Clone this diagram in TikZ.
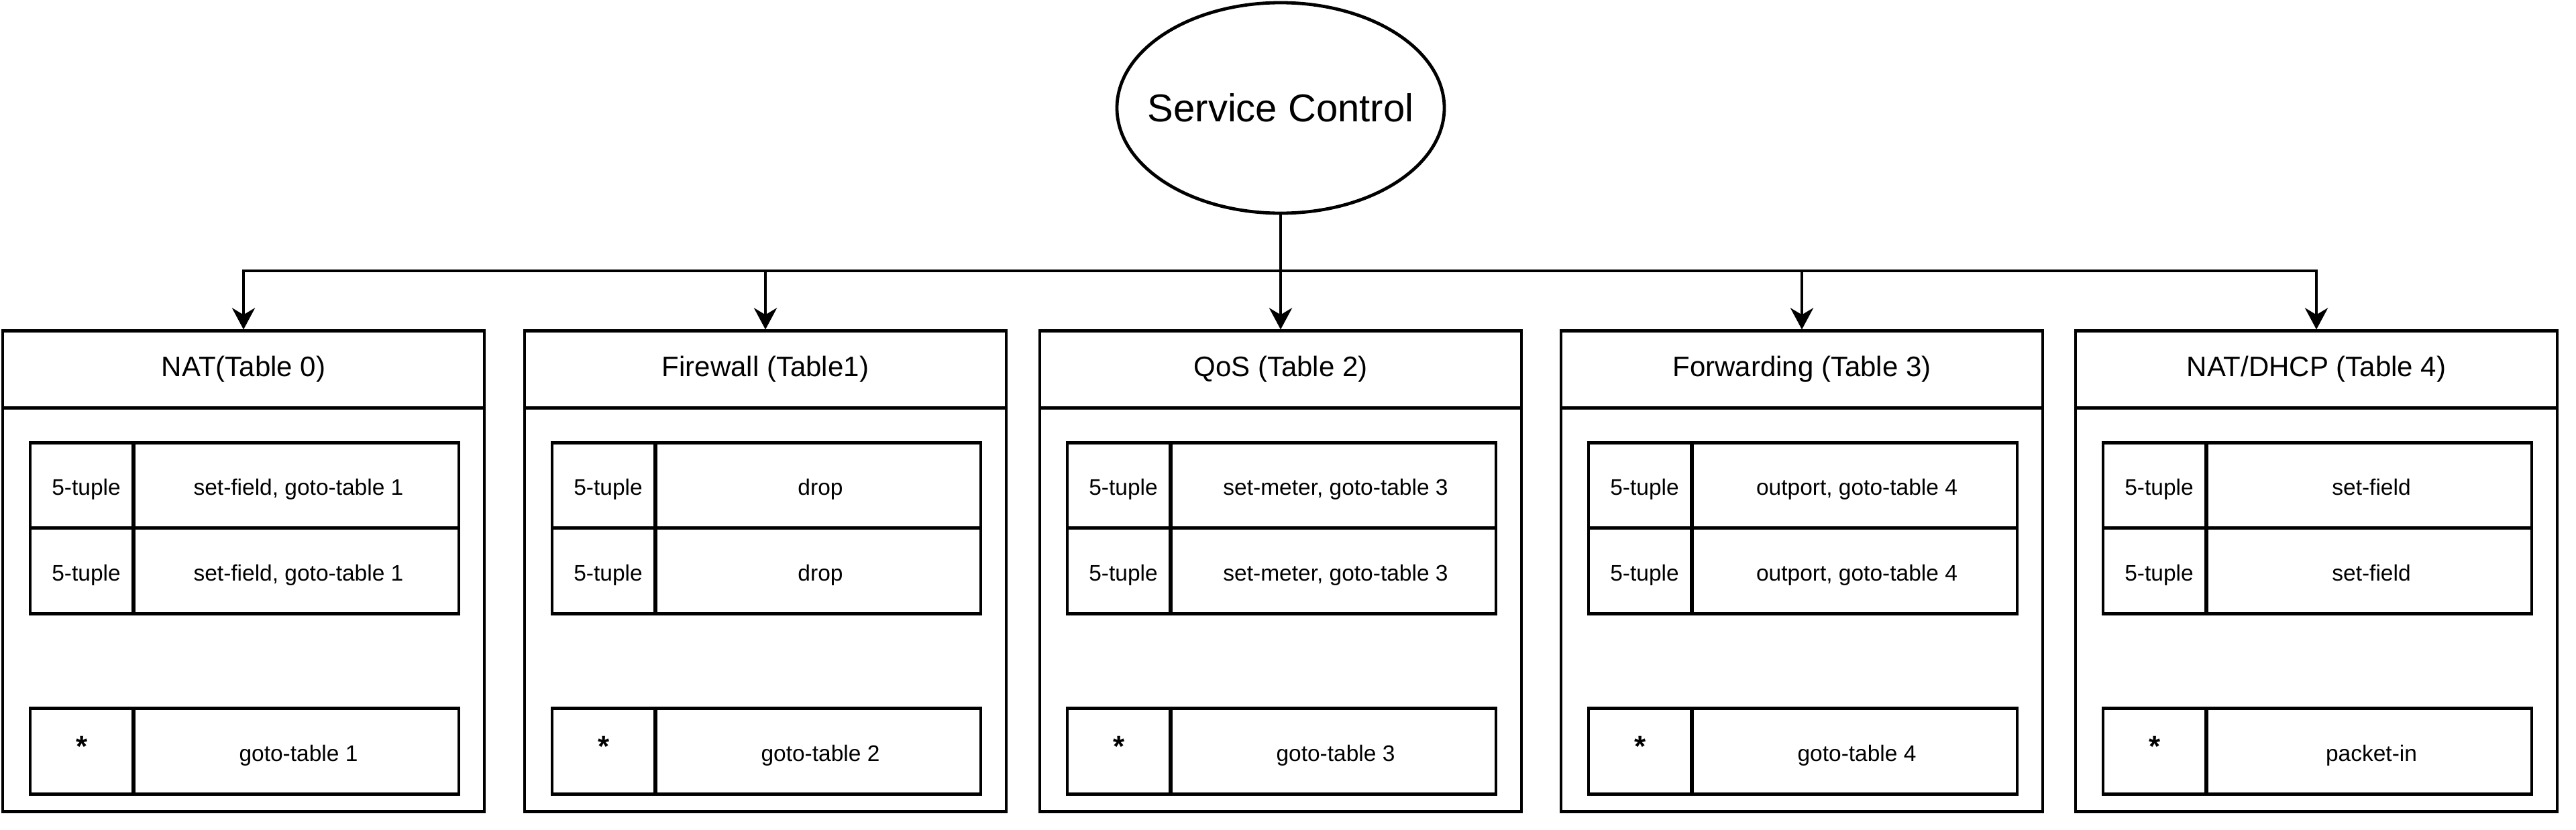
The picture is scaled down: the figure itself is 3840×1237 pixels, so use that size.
\documentclass[tikz,border=0pt]{standalone}
\usepackage{fontspec}
\setmainfont{Liberation Sans}
\usetikzlibrary{arrows.meta,shapes.geometric}
\begin{document}
\begin{tikzpicture}[x=1pt,y=-1pt,
  lw/.style={line width=4.8pt},
  tbox/.style={draw,lw,minimum width=718pt,minimum height=716.3pt,inner sep=0pt},
  cell/.style={draw,lw,inner sep=0pt,minimum height=127.8pt,text height=29pt,text depth=0pt,
    font=\fontsize{33.5}{40}\selectfont},
  keycell/.style={cell,minimum width=155pt},
  actcell/.style={cell,minimum width=486pt},
  ttlstyle/.style={anchor=base,inner sep=0pt,font=\fontsize{42}{50}\selectfont},
  conn/.style={lw,-{Stealth[length=32pt,width=34pt,inset=10pt]}}]
\useasboundingbox (0,0) rectangle (3840,1237);
\node[draw,lw,ellipse,minimum width=488pt,minimum height=314pt,inner sep=0pt,
  label={[font=\fontsize{58}{66}\selectfont]center:Service Control}] (sc) at (1909,161) {};
\foreach \ix/\cx/\mytitle/\myact/\mydft in {
  0/363/{NAT(Table 0)}/{set-field, goto-table 1}/{goto-table 1},
  1/1141/{Firewall (Table1)}/{drop}/{goto-table 2},
  2/1909/{QoS (Table 2)}/{set-meter, goto-table 3}/{goto-table 3},
  3/2686/{Forwarding (Table 3)}/{outport, goto-table 4}/{goto-table 4},
  4/3453/{NAT/DHCP (Table 4)}/{set-field}/{packet-in}}{
  \node[tbox] (t\ix) at (\cx,852) {};
  \node[ttlstyle] (h\ix) at (\cx,561.5) {\mytitle};
  \draw[lw] (\cx-359,608.7) -- (\cx+359,608.7);
  \node[keycell] (ka\ix) at (\cx-240.5,724) {\hspace{12pt}5-tuple};
  \node[actcell] (aa\ix) at (\cx+78,724) {\hspace{8pt}\myact};
  \node[keycell] (kb\ix) at (\cx-240.5,851.6) {\hspace{12pt}5-tuple};
  \node[actcell] (ab\ix) at (\cx+78,851.6) {\hspace{8pt}\myact};
  \node[keycell] (kc\ix) at (\cx-240.5,1120.5) {\raisebox{7pt}{\fontsize{44}{50}\selectfont\bfseries *}};
  \node[actcell] (ac\ix) at (\cx+78,1120.5) {\hspace{8pt}\mydft};
  \coordinate (bus\ix) at (\cx,404);
  \draw[conn] (sc.south) |- (bus\ix) -- (t\ix.north);
}
\end{tikzpicture}
\end{document}
